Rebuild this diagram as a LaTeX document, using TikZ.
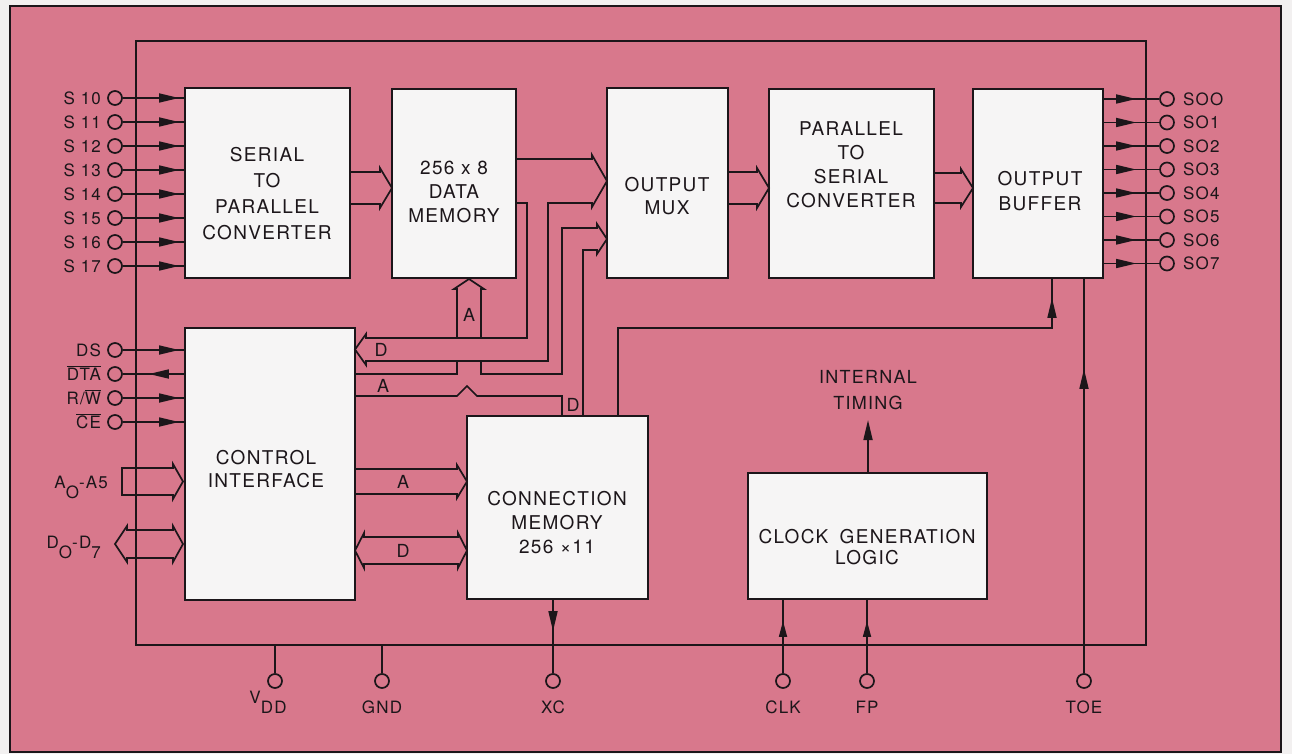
\documentclass[tikz,border=0pt]{standalone}
\usepackage{fontspec}
\setmainfont{TeX Gyre Heros}[LetterSpace=7]
\usetikzlibrary{arrows.meta,decorations.markings}
\definecolor{pinkbg}{RGB}{216,120,140}
\definecolor{boxfill}{RGB}{246,245,245}
\definecolor{ink}{RGB}{28,22,26}
\definecolor{margin}{RGB}{242,240,240}
\newcommand\ovl[1]{$\overline{\mbox{#1}}$}
\newcommand\busr[5]{\draw[wire] (#1,#4) -- (#2,#4) -- (#2,{#4-4}) -- (#3,{(#4+#5)/2}) -- (#2,{#5+4}) -- (#2,#5) -- (#1,#5);}
\begin{document}
\begin{tikzpicture}[x=1pt,y=-1pt,line join=miter,
  blk/.style={draw=ink,fill=boxfill,line width=1.9pt,inner sep=0pt},
  wire/.style={draw=ink,line width=1.7pt},
  pin/.style={circle,draw=ink,line width=1.7pt,minimum size=14pt,inner sep=0pt},
  btxt/.style={align=center,text=ink,inner sep=0pt},
  ptxt/.style={font=\fontsize{17}{20}\selectfont,text=ink,inner sep=0pt,text height=12.2pt,text depth=0pt},
  ltxt/.style={font=\fontsize{18}{20}\selectfont,text=ink,inner sep=0pt,text height=12.9pt,text depth=0pt},
  marr/.style={postaction={decorate},decoration={markings,mark=at position #1 with {\arrow{Triangle[length=20pt,width=9pt]}}}},
  sarr/.style={postaction={decorate},decoration={markings,mark=at position #1 with {\arrow{Triangle[length=16pt,width=8pt]}}}},
]
\useasboundingbox (0,0) rectangle (1292,754);
\fill[margin] (0,0) rectangle (1292,754);
\node[fill=pinkbg,draw=ink,line width=2.6pt,minimum width=1271pt,minimum height=746pt,inner sep=0pt] (frame) at (645.5,379) {};
\node[draw=ink,line width=1.5pt,minimum width=1010pt,minimum height=604pt,inner sep=0pt] (chip) at (641,343) {};

% blocks
\node[blk,minimum width=165pt,minimum height=190pt] (sp) at (267.5,183) {};
\node[blk,minimum width=124pt,minimum height=189pt] (dm) at (454,183.5) {};
\node[blk,minimum width=121pt,minimum height=190pt] (mux) at (667.5,183) {};
\node[blk,minimum width=165pt,minimum height=189pt] (ps) at (851.5,183.5) {};
\node[blk,minimum width=130pt,minimum height=189pt] (ob) at (1038,183.5) {};
\node[blk,minimum width=170pt,minimum height=272pt] (ci) at (270,464) {};
\node[blk,minimum width=181pt,minimum height=183pt] (cm) at (557.5,507.5) {};
\node[blk,minimum width=239pt,minimum height=126pt] (clk) at (867.5,536) {};

% block texts
\node[btxt,font=\fontsize{19}{26}\selectfont] (spt) at (267,194) {SERIAL\\TO\\PARALLEL\\CONVERTER};
\node[btxt,font=\fontsize{19}{24}\selectfont] (dmt) at (454,192) {256 x 8\\DATA\\MEMORY};
\node[btxt,font=\fontsize{19}{23}\selectfont] (muxt) at (667,196) {OUTPUT\\MUX};
\node[btxt,font=\fontsize{19}{24}\selectfont] (pst) at (851,165) {PARALLEL\\TO\\SERIAL\\CONVERTER};
\node[btxt,font=\fontsize{19}{25}\selectfont] (obt) at (1040,191) {OUTPUT\\BUFFER};
\node[btxt,font=\fontsize{19}{23}\selectfont] (cit) at (266,469) {CONTROL\\INTERFACE};
\node[btxt,font=\fontsize{19}{24}\selectfont] (cmt) at (557,523) {CONNECTION\\MEMORY\\256 ×11};
\node[btxt,font=\fontsize{19}{21}\selectfont] (clkt) at (867,547) {CLOCK\hspace{0.6em}GENERATION\\LOGIC};
\node[btxt,font=\fontsize{18}{26}\selectfont] (itt) at (868,390) {INTERNAL\\TIMING};

% left serial input pins
\foreach \n/\y in {10/98,11/122,12/146,13/170,14/194,15/218,16/242,17/266}{
  \node[pin] (s\n) at (115,\y) {};
  \node[ptxt,anchor=east] (s\n l) at ([xshift=-6pt]s\n.west) {S \n};
  \draw[wire,marr=-5pt] (s\n) -- (s\n -| sp.west);
}
% control pins
\node[pin] (ds) at (115,350) {};
\node[pin] (dta) at (115,374) {};
\node[pin] (rw) at (115,398) {};
\node[pin] (ce) at (115,422) {};
\node[ptxt,anchor=east] (dsl) at ([xshift=-6pt]ds.west) {DS};
\node[ptxt,anchor=east] (dtal) at ([xshift=-6pt]dta.west) {\ovl{DTA}};
\node[ptxt,anchor=east] (rwl) at ([xshift=-6pt]rw.west) {R/\ovl{W}};
\node[ptxt,anchor=east] (cel) at ([xshift=-6pt]ce.west) {\ovl{CE}};
\draw[wire,marr=-5pt] (ds) -- (ds -| ci.west);
\draw[wire,marr=-26pt] (dta -| ci.west) -- (dta);
\draw[wire,marr=-5pt] (rw) -- (rw -| ci.west);
\draw[wire,marr=-5pt] (ce) -- (ce -| ci.west);

% right serial output pins
\foreach \n/\y in {O/99,1/122.5,2/146,3/169.5,4/193,5/216.5,6/240,7/263.5}{
  \node[pin] (so\n) at (1167,\y) {};
  \node[ptxt,anchor=west] (so\n l) at ([xshift=8pt]so\n.east) {SO\n};
  \draw[wire,marr=-23pt] (so\n -| ob.east) -- (so\n);
}

% bottom pins
\node[pin] (vdd) at (275,681) {};
\node[pin] (gnd) at (382,681) {};
\node[pin] (xc) at (553,681) {};
\node[pin] (clkp) at (783,681) {};
\node[pin] (fp) at (867,681) {};
\node[pin] (toe) at (1084,681) {};
\node[ptxt] (vddl) at (268,707) {\raisebox{10pt}{V}DD};
\node[ptxt] (gndl) at (382,707) {GND};
\node[ptxt] (xcl) at (553,707) {XC};
\node[ptxt] (clkl) at (783,707) {CLK};
\node[ptxt] (fpl) at (867,707) {FP};
\node[ptxt] (toel) at (1084,707) {TOE};
\draw[wire] (vdd) -- (vdd |- chip.south);
\draw[wire] (gnd) -- (gnd |- chip.south);
\draw[wire,marr=-42pt] (xc |- cm.south) -- (xc);
\draw[wire,sarr=-21pt] (clkp) -- (clkp |- clk.south);
\draw[wire,sarr=-21pt] (fp) -- (fp |- clk.south);
\draw[wire,marr=-90pt] (toe) -- (toe |- ob.south);

% internal timing
\coordinate (itip) at (868,420);
\draw[wire,-{Triangle[length=20pt,width=9pt]}] (clk.north -| itip) -- (itip);

% connection memory to output buffer
\draw[wire,marr=-19pt] (cm.north -| 618,0) -- (618,328) -- (1052,328) -- (ob.south -| 1052,0);

% parallel buses between top blocks
\busr{350}{380}{392}{172}{204}
\busr{728}{757}{769}{172}{204}
\busr{934}{961}{973}{173}{203}

% data memory out / D bus to control interface
\draw[wire] (516,159) -- (592,159) -- (592,155) -- (607,181) -- (592,207) -- (592,203) -- (548,203) -- (548,361)
  -- (366,361) -- (366,365) -- (355,349.5) -- (366,334) -- (366,338) -- (527,338) -- (527,203) -- (516,203);
% A bus to data memory and to mux
\draw[wire] (355,374) -- (457,374) -- (457,361);
\draw[wire] (457,338) -- (457,289) -- (454,289) -- (469,279) -- (484,289) -- (481,289) -- (481,338);
\draw[wire] (481,361) -- (481,374) -- (562,374) -- (562,228) -- (597,228) -- (597,224) -- (607,239) -- (597,254) -- (597,250) -- (583,250) -- (583,416);
\draw[wire] (355,396) -- (457,396) -- (467,386) -- (477,396) -- (562,396) -- (562,416);

% control interface to connection memory
\busr{355}{457}{467}{469}{494}
\draw[wire] (364,537) -- (458,537) -- (458,533) -- (467,550.5) -- (458,568) -- (458,564) -- (364,564) -- (364,568) -- (355,550.5) -- (364,533) -- cycle;

% external A and D buses
\draw[wire] (122,468) -- (173,468) -- (173,464) -- (183,481.5) -- (173,499) -- (173,495) -- (122,495) -- cycle;
\draw[wire] (127,530) -- (173,530) -- (173,526) -- (183,544) -- (173,562) -- (173,558) -- (127,558) -- (127,562) -- (115,544) -- (127,526) -- cycle;
\node[ptxt,anchor=east] (aal) at (108,482) {A\raisebox{-10pt}{O}-A5};
\node[ptxt,anchor=east] (ddl) at (101,542) {D\raisebox{-10pt}{O}-D\raisebox{-10pt}{7}};

% bus letters
\node[ltxt] (la1) at (469,315) {A};
\node[ltxt] (ld1) at (381,350) {D};
\node[ltxt] (la2) at (383,386) {A};
\node[ltxt] (ld2) at (573,405) {D};
\node[ltxt] (la3) at (403,482) {A};
\node[ltxt] (ld3) at (403,551) {D};
\end{tikzpicture}
\end{document}
